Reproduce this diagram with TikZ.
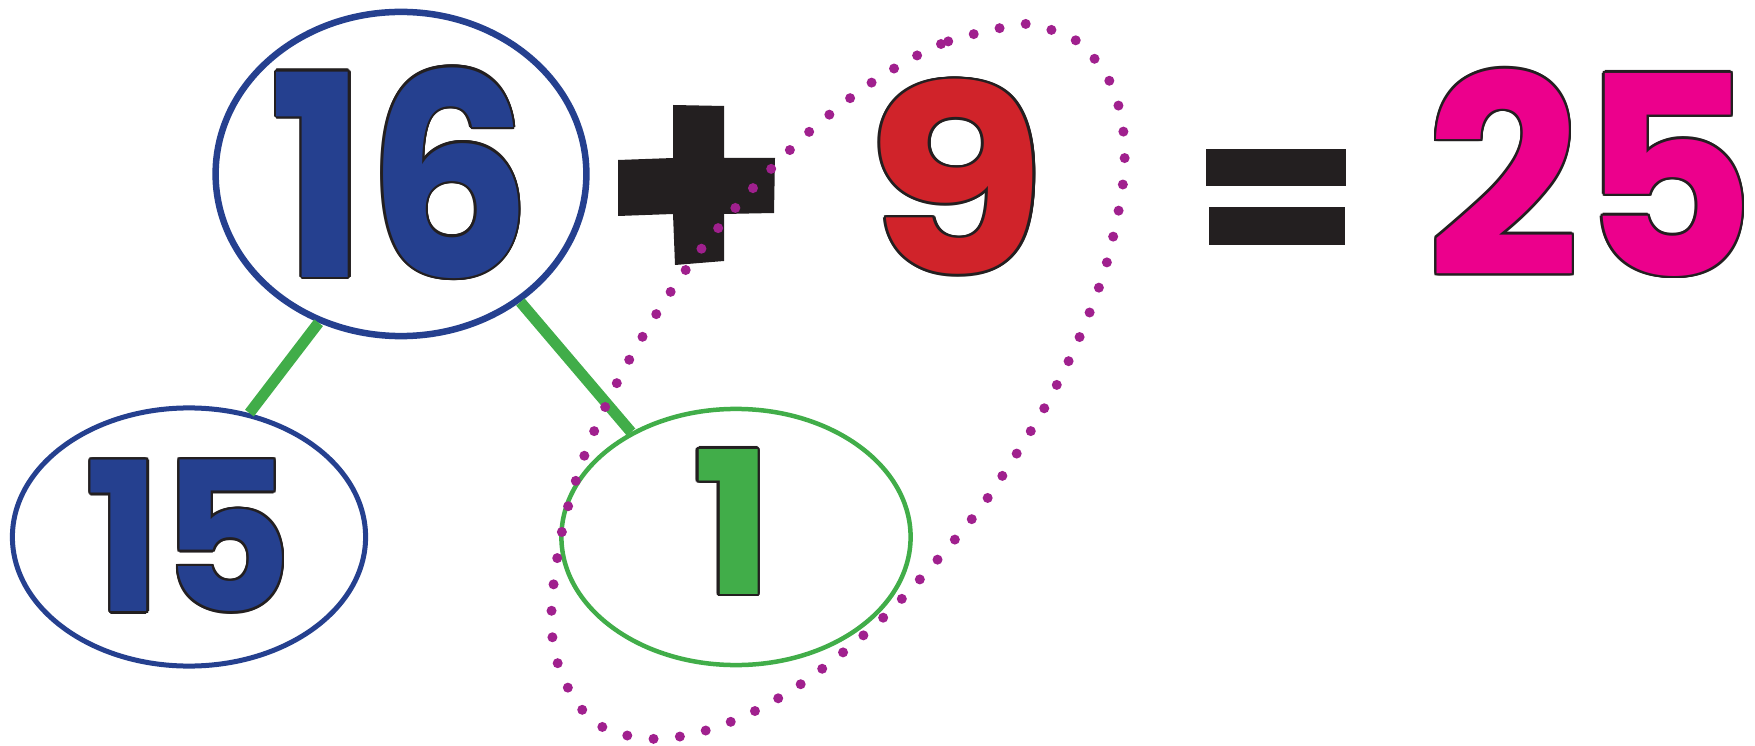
\documentclass[tikz,border=0pt]{standalone}
\usepackage{fontspec}
\usepackage{contour}
\usetikzlibrary{shapes.geometric}

\newfontfamily\numfont{Poppins}
\definecolor{ringblue}{RGB}{37,64,143}
\definecolor{ringgreen}{RGB}{65,173,73}
\definecolor{ninered}{RGB}{208,35,42}
\definecolor{sumpink}{RGB}{236,0,140}
\definecolor{signblack}{RGB}{35,31,32}
\definecolor{loopdots}{RGB}{160,32,142}
\contourlength{0.7pt}
\newcommand{\bignum}[4]{\scalebox{#2}[1]{\fontsize{#1}{#1}\selectfont\numfont\bfseries\textcolor{#3}{\contour{signblack}{#4}}}}

\tikzset{
  ring/.style={ellipse, fill=white, inner sep=0pt},
  bluering/.style={ring, draw=ringblue, line width=0.065cm},
  greenring/.style={ring, draw=ringgreen, line width=0.045cm},
  branch/.style={draw=ringgreen, line width=0.11cm},
  dotloop/.style={draw=loopdots, line width=0.1cm, line cap=round, dash pattern=on 0pt off 0.265cm}
}

\begin{document}
\begin{tikzpicture}[x=0.01cm, y=-0.01cm]
\useasboundingbox (0,0) rectangle (1755,746);

% number bond
\node[bluering, minimum width=3.70cm, minimum height=3.24cm] (n16) at (401,174) {\bignum{80}{0.92}{ringblue}{16}};
\node[bluering, line width=0.05cm, minimum width=3.53cm, minimum height=2.58cm] (n15) at (189,537) {\bignum{59}{0.97}{ringblue}{15}};
\node[greenring, minimum width=3.49cm, minimum height=2.56cm] (n1) at (736,537) {};
\node (one) at (733,523) {\bignum{56.5}{1.07}{ringgreen}{1}};
\draw[branch] (n16.241.8) -- (n15.64);
\draw[branch] (n16.313.6) -- (n1.135.8);

% the sum
\fill[signblack] (673,105) -- (724,106) -- (724,158) -- (775,158) -- (774,213) -- (724,214)
  -- (724,261) -- (675,265) -- (673,214) -- (618,216) -- (618,160) -- (673,158) -- cycle;
\node (n9) at (956,178) {\bignum{74}{1.13}{ninered}{9}};
\fill[signblack] (1206,149) rectangle (1346,186);
\fill[signblack] (1209,207) rectangle (1345,245);
\node (n25) at (1591,174) {\bignum{79}{0.97}{sumpink}{25}};

% 1 + 9 makes ten
\draw[dotloop] plot[smooth cycle] coordinates {
  (1016,25) (941,44) (871,83) (809,132) (754,187) (702,248) (662,305) (622,373)
  (588,446) (564,522) (552,600) (555,654) (576,702) (608,730) (659,739) (711,729)
  (759,709) (804,682) (846,650) (886,615) (922,577) (957,537) (989,496) (1041,414)
  (1077,343) (1105,269) (1122,191) (1124,137) (1112,86) (1081,44) (1042,27)};
\end{tikzpicture}
\end{document}
